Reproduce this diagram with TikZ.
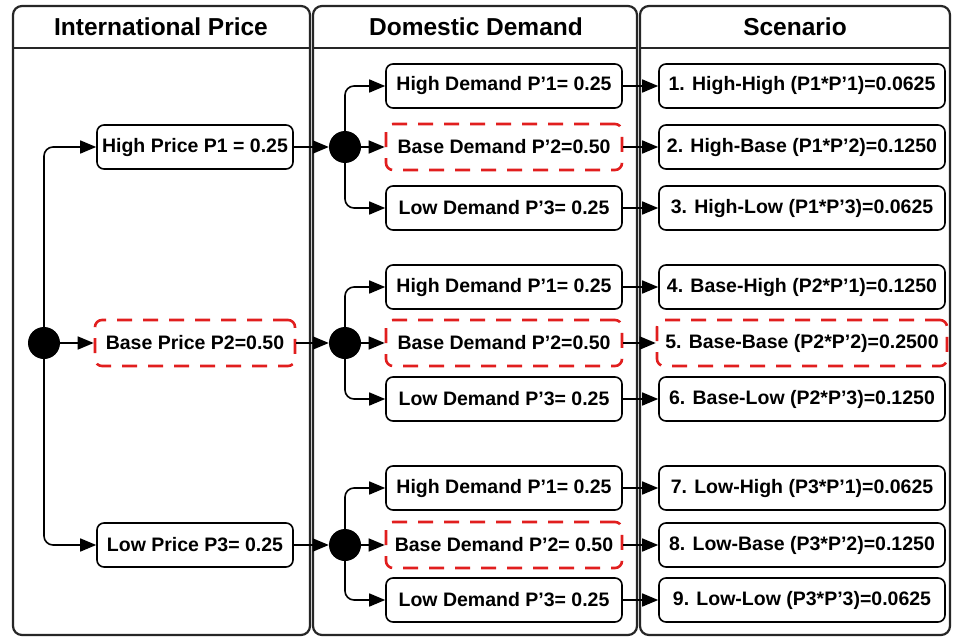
\documentclass[tikz,border=0pt]{standalone}
\usepackage{fontspec}
\setmainfont{Liberation Sans}
\usetikzlibrary{arrows.meta, positioning}
\definecolor{dashred}{RGB}{225,30,30}

\begin{document}
\begin{tikzpicture}[x=1pt, y=-1pt,
  every node/.style={font=\bfseries\fontsize{19.5}{22}\selectfont, inner sep=0pt},
  panel/.style={draw=black!85, line width=2.2pt, rounded corners=9pt, fill=white},
  head/.style={font=\bfseries\fontsize{24.5}{27}\selectfont},
  box/.style={rectangle, draw, line width=1.6pt, rounded corners=7pt, minimum height=44pt, fill=white},
  pick/.style={box, draw=dashred, line width=2.6pt, dash pattern=on 15pt off 11pt, minimum height=46pt},
  dot/.style={circle, fill=black, minimum size=32pt},
  arr/.style={-{Triangle[length=16pt, width=13pt]}, line width=1.6pt},
]
  \useasboundingbox (0,0) rectangle (954,637);

  % column panels
  \draw[panel] (13,6) rectangle (310,635);
  \draw[panel] (313,6) rectangle (637,635);
  \draw[panel] (640,6) rectangle (950,635);
  \draw[black!85, line width=2.2pt] (13,48) -- (310,48);
  \draw[black!85, line width=2.2pt] (313,48) -- (637,48);
  \draw[black!85, line width=2.2pt] (640,48) -- (950,48);
  \node[head] (hIP) at (161,27) {International Price};
  \node[head] (hDD) at (476,27) {Domestic Demand};
  \node[head] (hSC) at (795,27) {Scenario};

  % international price
  \node[dot] (root) at (44,343) {};
  \node[box, minimum width=196pt] (hp) at (195,147) {High Price P1 = 0.25};
  \node[pick, minimum width=200pt] (bp) at (195,343) {Base Price P2=0.50};
  \node[box, minimum width=196pt] (lp) at (195,545) {Low Price P3= 0.25};

  % domestic demand
  \node[dot] (d1) at (345,147) {};
  \node[dot] (d2) at (345,343) {};
  \node[dot] (d3) at (345,545) {};
  \node[box, minimum width=236pt] (hd1) at (504,86) {High Demand P’1= 0.25};
  \node[pick, minimum width=236pt] (bd1) at (504,147) {Base Demand P’2=0.50};
  \node[box, minimum width=236pt] (ld1) at (504,208) {Low Demand P’3= 0.25};
  \node[box, minimum width=236pt] (hd2) at (504,287) {High Demand P’1= 0.25};
  \node[pick, minimum width=236pt] (bd2) at (504,343) {Base Demand P’2=0.50};
  \node[box, minimum width=236pt] (ld2) at (504,399) {Low Demand P’3= 0.25};
  \node[box, minimum width=236pt] (hd3) at (504,488) {High Demand P’1= 0.25};
  \node[pick, minimum width=236pt] (bd3) at (504,545) {Base Demand P’2= 0.50};
  \node[box, minimum width=236pt] (ld3) at (504,600) {Low Demand P’3= 0.25};

  % scenarios
  \node[box, minimum width=286pt] (s1) at (802,86) {1. High-High (P1*P’1)=0.0625};
  \node[box, minimum width=286pt] (s2) at (802,147) {2. High-Base (P1*P’2)=0.1250};
  \node[box, minimum width=286pt] (s3) at (802,208) {3. High-Low (P1*P’3)=0.0625};
  \node[box, minimum width=286pt] (s4) at (802,287) {4. Base-High (P2*P’1)=0.1250};
  \node[pick, minimum width=290pt] (s5) at (802,343) {5. Base-Base (P2*P’2)=0.2500};
  \node[box, minimum width=286pt] (s6) at (802,399) {6. Base-Low (P2*P’3)=0.1250};
  \node[box, minimum width=286pt] (s7) at (802,488) {7. Low-High (P3*P’1)=0.0625};
  \node[box, minimum width=286pt] (s8) at (802,545) {8. Low-Base (P3*P’2)=0.1250};
  \node[box, minimum width=286pt] (s9) at (802,600) {9. Low-Low (P3*P’3)=0.0625};

  % branches
  \draw[arr, rounded corners=9pt] (root) |- (hp);
  \draw[arr] (root) -- (bp);
  \draw[arr, rounded corners=9pt] (root) |- (lp);
  \draw[arr] (hp) -- (d1);
  \draw[arr] (bp) -- (d2);
  \draw[arr] (lp) -- (d3);
  \foreach \g in {1,2,3} {
    \draw[arr, rounded corners=9pt] (d\g) |- (hd\g);
    \draw[arr] (d\g) -- (bd\g);
    \draw[arr, rounded corners=9pt] (d\g) |- (ld\g);
  }
  \draw[arr] (hd1) -- (s1);
  \draw[arr] (bd1) -- (s2);
  \draw[arr] (ld1) -- (s3);
  \draw[arr] (hd2) -- (s4);
  \draw[arr] (bd2) -- (s5);
  \draw[arr] (ld2) -- (s6);
  \draw[arr] (hd3) -- (s7);
  \draw[arr] (bd3) -- (s8);
  \draw[arr] (ld3) -- (s9);
\end{tikzpicture}
\end{document}
